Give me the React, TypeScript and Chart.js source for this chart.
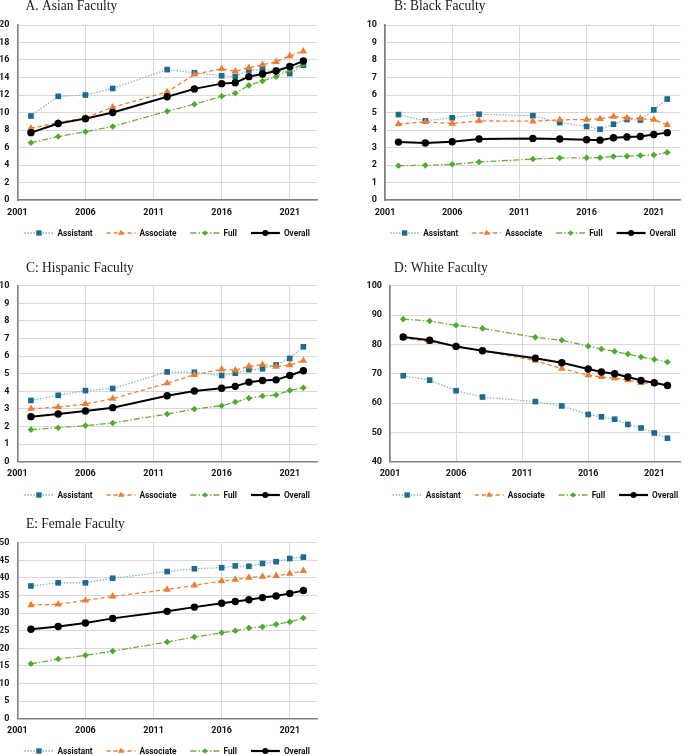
import React, { useEffect, useRef } from 'react';
import { Chart, registerables } from 'chart.js';

Chart.register(...registerables);

// ---------- data ----------
const years = [2002, 2004, 2006, 2008, 2012, 2014, 2016, 2017, 2018, 2019, 2020, 2021, 2022];
const xTickValues = [2001, 2006, 2011, 2016, 2021];
const seriesNames = ['Assistant', 'Associate', 'Full', 'Overall'];

const asianAssistant = [9.6, 11.85, 12.0, 12.75, 14.9, 14.55, 14.2, 14.1, 14.85, 14.9, 14.8, 14.45, 15.4];
const asianAssociate = [8.2, 8.85, 9.4, 10.6, 12.35, 14.35, 15.0, 14.7, 15.1, 15.45, 15.8, 16.45, 17.0];
const asianFull = [6.55, 7.25, 7.8, 8.4, 10.15, 10.95, 11.85, 12.2, 13.1, 13.6, 14.1, 14.85, 15.55];
const asianOverall = [7.7, 8.75, 9.3, 10.0, 11.8, 12.7, 13.3, 13.4, 14.1, 14.4, 14.75, 15.25, 15.9];
const asianYTicks = [0, 2, 4, 6, 8, 10, 12, 14, 16, 18, 20];

const blackAssistant = [4.88, 4.52, 4.7, 4.9, 4.82, 4.42, 4.2, 4.04, 4.33, 4.6, 4.57, 5.15, 5.77];
const blackAssociate = [4.34, 4.46, 4.37, 4.52, 4.5, 4.58, 4.6, 4.64, 4.77, 4.68, 4.65, 4.6, 4.3];
const blackFull = [1.96, 1.98, 2.04, 2.17, 2.34, 2.4, 2.41, 2.42, 2.49, 2.5, 2.54, 2.57, 2.72];
const blackOverall = [3.31, 3.26, 3.33, 3.49, 3.52, 3.49, 3.44, 3.42, 3.56, 3.6, 3.63, 3.74, 3.85];
const blackYTicks = [0, 1, 2, 3, 4, 5, 6, 7, 8, 9, 10];

const hispanicAssistant = [3.48, 3.77, 4.04, 4.16, 5.1, 5.08, 4.9, 5.03, 5.23, 5.28, 5.5, 5.87, 6.53];
const hispanicAssociate = [3.01, 3.1, 3.28, 3.58, 4.46, 4.94, 5.25, 5.19, 5.42, 5.51, 5.4, 5.49, 5.74];
const hispanicFull = [1.82, 1.93, 2.05, 2.2, 2.71, 2.99, 3.18, 3.39, 3.61, 3.73, 3.79, 4.05, 4.2];
const hispanicOverall = [2.56, 2.71, 2.88, 3.07, 3.75, 4.02, 4.17, 4.28, 4.52, 4.61, 4.65, 4.9, 5.17];
const hispanicYTicks = [0, 1, 2, 3, 4, 5, 6, 7, 8, 9, 10];

const whiteAssistant = [69.3, 67.8, 64.2, 62.05, 60.5, 59.0, 56.1, 55.3, 54.5, 52.7, 51.5, 49.8, 48.0];
const whiteAssociate = [82.2, 80.9, 79.5, 77.7, 74.5, 71.7, 69.5, 68.9, 68.5, 67.8, 66.9, 66.6, 66.0];
const whiteFull = [88.6, 87.95, 86.5, 85.45, 82.4, 81.4, 79.4, 78.4, 77.6, 76.7, 75.7, 74.9, 74.0];
const whiteOverall = [82.5, 81.4, 79.3, 77.8, 75.3, 73.75, 71.6, 70.6, 70.0, 68.9, 67.7, 66.9, 66.0];
const whiteYTicks = [40, 50, 60, 70, 80, 90, 100];

const femaleAssistant = [37.7, 38.6, 38.6, 39.9, 41.8, 42.6, 42.9, 43.4, 43.3, 44.1, 44.6, 45.5, 45.9];
const femaleAssociate = [32.3, 32.5, 33.6, 34.75, 36.7, 37.9, 39.1, 39.5, 40.1, 40.4, 40.6, 41.2, 42.0];
const femaleFull = [15.6, 16.95, 18.0, 19.2, 21.8, 23.2, 24.4, 25.0, 25.75, 26.1, 26.8, 27.5, 28.6];
const femaleOverall = [25.4, 26.2, 27.2, 28.5, 30.5, 31.7, 32.8, 33.3, 33.8, 34.4, 34.85, 35.6, 36.4];
const femaleYTicks = [0, 5, 10, 15, 20, 25, 30, 35, 40, 45, 50];

// ---------- styles ----------
const seriesStyles = [
  { line: '#7fb3cd', marker: '#1f6b8d', dash: [1.5, 1.5], width: 1.2, point: 'rect', r: 4, lr: 3.8, order: 3 },
  { line: '#ed7d31', marker: '#ed7d31', dash: [4, 3], width: 1.3, point: 'triangle', r: 4.3, lr: 3.6, order: 2 },
  { line: '#70ad47', marker: '#4fab2c', dash: [6, 2, 1.5, 2], width: 1.3, point: 'rectRot', r: 3.3, lr: 2.8, order: 1 },
  { line: '#000000', marker: '#000000', dash: [], width: 2, point: 'circle', r: 3.7, lr: 3.0, order: 0 },
];

const panels = [
  { title: 'A. Asian Faculty', series: [asianAssistant, asianAssociate, asianFull, asianOverall], yTicks: asianYTicks,
    left: 0, top: 0, w: 342, h: 250, area: { l: 17, t: 25, r: 317, b: 200 }, titleX: 25.5, titleY: 9.5, legendY: 233 },
  { title: 'B: Black Faculty', series: [blackAssistant, blackAssociate, blackFull, blackOverall], yTicks: blackYTicks,
    left: 342, top: 0, w: 343, h: 250, area: { l: 43, t: 25, r: 341, b: 200 }, titleX: 52, titleY: 9.5, legendY: 233 },
  { title: 'C: Hispanic Faculty', series: [hispanicAssistant, hispanicAssociate, hispanicFull, hispanicOverall], yTicks: hispanicYTicks,
    left: 0, top: 250, w: 342, h: 250, area: { l: 17, t: 35.7, r: 317, b: 211.7 }, titleX: 26, titleY: 21.7, legendY: 245 },
  { title: 'D: White Faculty', series: [whiteAssistant, whiteAssociate, whiteFull, whiteOverall], yTicks: whiteYTicks,
    left: 342, top: 250, w: 343, h: 250, area: { l: 48, t: 35.7, r: 343, b: 211.7 }, titleX: 52, titleY: 21.7, legendY: 245 },
  { title: 'E: Female Faculty', series: [femaleAssistant, femaleAssociate, femaleFull, femaleOverall], yTicks: femaleYTicks,
    left: 0, top: 500, w: 342, h: 255, area: { l: 17, t: 42.7, r: 317, b: 218.7 }, titleX: 26, titleY: 28.3, legendY: 251 },
];

const tickFont = { family: 'Roboto, "Liberation Sans", Arial, sans-serif', size: 9, weight: 'bold' as const };
const tickColor = '#141414';

function drawMarker(ctx: CanvasRenderingContext2D, style: string, x: number, y: number, r: number, color: string) {
  ctx.fillStyle = color;
  ctx.beginPath();
  if (style === 'rect') {
    const s = r * Math.SQRT1_2;
    ctx.rect(x - s, y - s, 2 * s, 2 * s);
  } else if (style === 'triangle') {
    let rad = 0;
    ctx.moveTo(x + Math.sin(rad) * r, y - Math.cos(rad) * r);
    rad += (2 * Math.PI) / 3;
    ctx.lineTo(x + Math.sin(rad) * r, y - Math.cos(rad) * r);
    rad += (2 * Math.PI) / 3;
    ctx.lineTo(x + Math.sin(rad) * r, y - Math.cos(rad) * r);
    ctx.closePath();
  } else if (style === 'rectRot') {
    ctx.moveTo(x, y - r);
    ctx.lineTo(x + r, y);
    ctx.lineTo(x, y + r);
    ctx.lineTo(x - r, y);
    ctx.closePath();
  } else {
    ctx.arc(x, y, r, 0, Math.PI * 2);
  }
  ctx.fill();
}

const LEGEND_SX = 0.87;

const decorPlugin = {
  id: 'panelDecor',
  afterDraw(chart: any, _args: any, opts: any) {
    const ctx: CanvasRenderingContext2D = chart.ctx;
    const area = chart.chartArea;
    ctx.save();
    // title
    ctx.translate(opts.titleX, opts.titleY);
    ctx.scale(0.87, 1);
    ctx.font = '15.5px "Liberation Serif", "Times New Roman", serif';
    ctx.fillStyle = '#1a1a1a';
    ctx.textAlign = 'left';
    ctx.textBaseline = 'alphabetic';
    ctx.fillText(opts.title, 0, 0);
    ctx.restore();

    // legend
    ctx.save();
    ctx.font = `bold 9.5px ${tickFont.family}`;
    const symW = 29;
    const gapAfterSym = 4;
    const gapItems = 14;
    const widths = seriesNames.map((n) => ctx.measureText(n).width * LEGEND_SX);
    let total = 0;
    widths.forEach((w, i) => {
      total += symW + gapAfterSym + w + (i < widths.length - 1 ? gapItems : 0);
    });
    let x = (area.left + area.right) / 2 - total / 2;
    const y = opts.legendY;
    seriesNames.forEach((name, i) => {
      const st = seriesStyles[i];
      ctx.save();
      ctx.strokeStyle = st.line;
      ctx.lineWidth = st.width + 0.2;
      ctx.setLineDash(st.dash);
      ctx.beginPath();
      ctx.moveTo(x, y);
      ctx.lineTo(x + symW, y);
      ctx.stroke();
      ctx.restore();
      drawMarker(ctx, st.point, x + symW / 2, y, st.lr, st.marker);
      ctx.save();
      ctx.translate(x + symW + gapAfterSym, y + 0.5);
      ctx.scale(LEGEND_SX, 1);
      ctx.fillStyle = tickColor;
      ctx.textAlign = 'left';
      ctx.textBaseline = 'middle';
      ctx.fillText(name, 0, 0);
      ctx.restore();
      x += symW + gapAfterSym + widths[i] + gapItems;
    });
    ctx.restore();
  },
};

function Panel({ p }: { p: (typeof panels)[number] }) {
  const ref = useRef<HTMLCanvasElement | null>(null);
  useEffect(() => {
    if (!ref.current) return;
    const yTicks = p.yTicks;
    const yWidth = p.area.l;
    const xHeight = p.h - p.area.b;
    const chart = new Chart(ref.current, {
      type: 'line',
      data: {
        datasets: p.series.map((vals, i) => {
          const st = seriesStyles[i];
          return {
            label: seriesNames[i],
            data: years.map((yr, j) => ({ x: yr, y: vals[j] })),
            borderColor: st.line,
            borderWidth: st.width,
            borderDash: st.dash,
            backgroundColor: st.marker,
            pointBackgroundColor: st.marker,
            pointBorderColor: st.marker,
            pointBorderWidth: 0,
            pointRadius: st.r,
            pointStyle: st.point,
            tension: 0,
            fill: false,
            order: st.order,
            clip: false,
          } as any;
        }),
      },
      options: {
        responsive: false,
        animation: false,
        events: [],
        layout: {
          padding: { left: 0, top: p.area.t, right: p.w - p.area.r, bottom: 0 },
        },
        plugins: {
          legend: { display: false },
          tooltip: { enabled: false },
          title: { display: false },
          panelDecor: { title: p.title, titleX: p.titleX, titleY: p.titleY, legendY: p.legendY },
        } as any,
        scales: {
          x: {
            type: 'linear',
            min: 2001,
            max: 2023,
            afterBuildTicks: (s: any) => {
              s.ticks = xTickValues.map((v) => ({ value: v }));
            },
            afterFit: (s: any) => {
              s.height = xHeight;
            },
            grid: { color: '#d9d9d9', lineWidth: 1, drawTicks: false },
            border: { color: '#808080', width: 1.6 },
            ticks: {
              padding: 7,
              font: tickFont,
              color: tickColor,
              maxRotation: 0,
              autoSkip: false,
              callback: (v: any) => String(v),
            },
          },
          y: {
            type: 'linear',
            min: yTicks[0],
            max: yTicks[yTicks.length - 1],
            afterBuildTicks: (s: any) => {
              s.ticks = yTicks.map((v) => ({ value: v }));
            },
            afterFit: (s: any) => {
              s.width = yWidth;
            },
            grid: { color: '#d9d9d9', lineWidth: 1, drawTicks: false },
            border: { color: '#808080', width: 1.6 },
            ticks: {
              padding: 8,
              font: tickFont,
              color: tickColor,
              callback: (v: any) => String(v),
            },
          },
        } as any,
      },
      plugins: [decorPlugin as any],
    });
    return () => chart.destroy();
  }, [p]);
  return (
    <canvas
      ref={ref}
      width={p.w}
      height={p.h}
      style={{ position: 'absolute', left: p.left, top: p.top, width: p.w, height: p.h }}
    />
  );
}

export default function App() {
  return (
    <div style={{ position: 'absolute', left: 0, top: 0, width: 685, height: 755, background: '#ffffff', overflow: 'hidden' }}>
      {panels.map((p) => (
        <Panel key={p.title} p={p} />
      ))}
    </div>
  );
}
